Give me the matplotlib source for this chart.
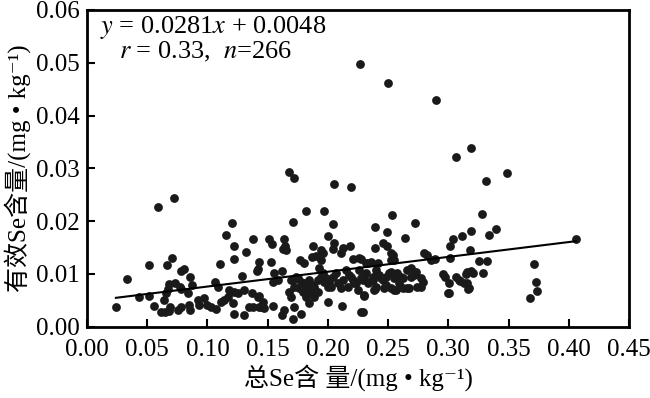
import numpy as np
import matplotlib
matplotlib.use("Agg")
from matplotlib import pyplot as plt

plt.rcParams["font.family"] = ["Liberation Serif", "Noto Sans CJK SC", "DejaVu Serif"]
plt.rcParams["mathtext.fontset"] = "stix"

# total Se (x) and available Se (y), mg/kg
x_low = [0.0592, 0.0720, 0.1203, 0.1156, 0.1380, 0.1217, 0.1317, 0.1217, 0.0705, 0.0517,
         0.0666, 0.1106, 0.1430, 0.0332, 0.0780, 0.0807, 0.0855, 0.1284, 0.1411, 0.0243,
         0.0432, 0.0517, 0.0559, 0.0637, 0.0656, 0.0672, 0.0680, 0.0730, 0.0772, 0.0780,
         0.0841, 0.0869, 0.0844, 0.0855, 0.0614, 0.0647, 0.0683, 0.0691, 0.0753, 0.0780,
         0.0924, 0.0932, 0.0973, 0.0996, 0.1029, 0.1068, 0.1065, 0.1085, 0.1112, 0.1139,
         0.1168, 0.1181, 0.1222, 0.1251, 0.1209, 0.1222, 0.1305, 0.1342, 0.1305, 0.1369,
         0.1425, 0.1430]
y_low = [0.0227, 0.0244, 0.0196, 0.0173, 0.0167, 0.0153, 0.0142, 0.0128, 0.0131, 0.0116,
         0.0116, 0.0119, 0.0122, 0.0091, 0.0106, 0.0109, 0.0094, 0.0097, 0.0106, 0.0037,
         0.0057, 0.0059, 0.0040, 0.0051, 0.0064, 0.0071, 0.0080, 0.0082, 0.0075, 0.0071,
         0.0063, 0.0079, 0.0041, 0.0032, 0.0027, 0.0028, 0.0030, 0.0038, 0.0032, 0.0038,
         0.0051, 0.0041, 0.0054, 0.0041, 0.0038, 0.0034, 0.0085, 0.0076, 0.0047, 0.0051,
         0.0057, 0.0070, 0.0066, 0.0063, 0.0044, 0.0025, 0.0022, 0.0038, 0.0070, 0.0064,
         0.0059, 0.0038]

x_high = [0.2265, 0.2497, 0.2900, 0.3187, 0.3065, 0.3488, 0.3314, 0.1679, 0.1715, 0.2052,
          0.2191, 0.1817, 0.1964, 0.1707, 0.2041, 0.2529, 0.2725, 0.2390, 0.2490, 0.2639,
          0.3276, 0.3187, 0.3392, 0.3339, 0.3115, 0.3040, 0.4064]
y_high = [0.0498, 0.0461, 0.0429, 0.0338, 0.0322, 0.0291, 0.0276, 0.0294, 0.0281, 0.0270,
          0.0265, 0.0219, 0.0219, 0.0199, 0.0194, 0.0211, 0.0197, 0.0188, 0.0180, 0.0168,
          0.0214, 0.0182, 0.0185, 0.0173, 0.0171, 0.0167, 0.0167]

x_mid = [0.1513, 0.1533, 0.1637, 0.1643, 0.1627, 0.2003, 0.2052, 0.2041, 0.1878, 0.1942,
         0.1956, 0.2122, 0.2108, 0.2185, 0.2390, 0.2454, 0.2495, 0.2523, 0.1770, 0.1803,
         0.1865, 0.1900, 0.1942, 0.2205, 0.2260, 0.1527, 0.1422, 0.1554, 0.1616, 0.1541,
         0.1583, 0.1651, 0.2315, 0.2329, 0.2357, 0.2412, 0.2537, 0.2523, 0.2550, 0.2799,
         0.2827, 0.2855, 0.2890, 0.3015, 0.3253, 0.3325, 0.3012, 0.3176, 0.3712, 0.2274]
y_mid = [0.0166, 0.0156, 0.0166, 0.0152, 0.0147, 0.0171, 0.0159, 0.0148, 0.0153, 0.0145,
         0.0139, 0.0149, 0.0139, 0.0153, 0.0150, 0.0159, 0.0152, 0.0139, 0.0126, 0.0120,
         0.0133, 0.0134, 0.0126, 0.0128, 0.0130, 0.0122, 0.0109, 0.0101, 0.0106, 0.0085,
         0.0089, 0.0145, 0.0120, 0.0120, 0.0123, 0.0120, 0.0136, 0.0126, 0.0126, 0.0140,
         0.0136, 0.0126, 0.0128, 0.0131, 0.0125, 0.0125, 0.0153, 0.0145, 0.0119, 0.0128]

x_dense = [0.1707, 0.1749, 0.1776, 0.1803, 0.1845, 0.1873, 0.1720, 0.1817, 0.1886, 0.1928,
           0.1956, 0.1983, 0.2011, 0.2039, 0.2066, 0.2081, 0.2025, 0.2122, 0.2149, 0.2177,
           0.2205, 0.2232, 0.2260, 0.2274, 0.2315, 0.2343, 0.2371, 0.2398, 0.2426, 0.2454,
           0.2481, 0.2523, 0.2550, 0.2578, 0.2620, 0.2661, 0.2689, 0.2730, 0.2772, 0.1693,
           0.1734, 0.1762, 0.1859, 0.1679, 0.1914, 0.1942, 0.1969, 0.1998, 0.2108, 0.2163,
           0.2191, 0.2218, 0.2247, 0.2288, 0.2301, 0.2329, 0.2371, 0.2398, 0.2440, 0.2481,
           0.2523, 0.2564, 0.2592, 0.2606, 0.2550, 0.2509, 0.2620, 0.2384, 0.2689, 0.2716,
           0.2786, 0.2675, 0.2772]
y_dense = [0.0089, 0.0092, 0.0085, 0.0082, 0.0089, 0.0079, 0.0076, 0.0073, 0.0076, 0.0111,
           0.0101, 0.0092, 0.0085, 0.0095, 0.0101, 0.0082, 0.0076, 0.0089, 0.0107, 0.0098,
           0.0088, 0.0082, 0.0107, 0.0092, 0.0101, 0.0085, 0.0095, 0.0107, 0.0098, 0.0088,
           0.0095, 0.0104, 0.0092, 0.0101, 0.0092, 0.0107, 0.0095, 0.0104, 0.0092, 0.0088,
           0.0095, 0.0073, 0.0066, 0.0066, 0.0088, 0.0095, 0.0085, 0.0076, 0.0073, 0.0076,
           0.0095, 0.0082, 0.0070, 0.0088, 0.0095, 0.0082, 0.0088, 0.0076, 0.0092, 0.0079,
           0.0073, 0.0070, 0.0082, 0.0095, 0.0098, 0.0101, 0.0073, 0.0070, 0.0111, 0.0098,
           0.0085, 0.0073, 0.0075]

x_bottom = [0.2301, 0.2003, 0.2116, 0.2274, 0.2390, 0.2467, 0.2550, 0.2661, 0.2744, 0.1914,
            0.1886, 0.1845, 0.1817, 0.1790, 0.1693, 0.1720, 0.1637, 0.1623, 0.1707, 0.1776,
            0.1541, 0.1444, 0.1417, 0.1375, 0.1471, 0.1458, 0.2301, 0.2288]
y_bottom = [0.0059, 0.0047, 0.0040, 0.0027, 0.0071, 0.0073, 0.0070, 0.0073, 0.0075, 0.0066,
            0.0057, 0.0044, 0.0057, 0.0066, 0.0057, 0.0038, 0.0032, 0.0022, 0.0014, 0.0025,
            0.0040, 0.0038, 0.0057, 0.0038, 0.0035, 0.0047, 0.0060, 0.0028]

x_right = [0.2952, 0.2971, 0.3007, 0.3002, 0.3062, 0.3098, 0.3131, 0.3159, 0.3168, 0.3145,
           0.3159, 0.3187, 0.3201, 0.3289, 0.3164, 0.3726, 0.3740, 0.3676, 0.2999, 0.3090]
y_right = [0.0100, 0.0094, 0.0082, 0.0063, 0.0095, 0.0087, 0.0082, 0.0083, 0.0073, 0.0100,
           0.0104, 0.0106, 0.0101, 0.0102, 0.0071, 0.0085, 0.0068, 0.0054, 0.0063, 0.0088]

x_all = x_low + x_high + x_mid + x_dense + x_bottom + x_right
y_all = y_low + y_high + y_mid + y_dense + y_bottom + y_right

slope = 0.0281
intercept = 0.0048
fit_x = np.array([0.024, 0.406])

fig = plt.figure(figsize=(6.5, 3.98), dpi=100)
ax = fig.add_axes([0.1338, 0.1791, 0.8339, 0.7958])

ax.scatter(x_all, y_all, s=40, color="#1a1a1a", linewidths=0, zorder=3)
ax.plot(fit_x, slope * fit_x + intercept, color="black", lw=1.5, zorder=4)

ax.set_xlim(0, 0.45)
ax.set_ylim(0, 0.06)
ax.set_xticks(np.arange(0, 0.46, 0.05))
ax.set_yticks(np.arange(0, 0.061, 0.01))
ax.xaxis.set_major_formatter(matplotlib.ticker.FormatStrFormatter("%.2f"))
ax.yaxis.set_major_formatter(matplotlib.ticker.FormatStrFormatter("%.2f"))
ax.tick_params(direction="in", length=6, width=1.5, labelsize=18, pad=5)
ax.tick_params(axis="x", pad=9)
for sp in ax.spines.values():
    sp.set_linewidth(2)

ax.text(0.024, 0.946, r"$y$ = 0.0281$x$ + 0.0048", transform=ax.transAxes,
        fontsize=19, va="center", ha="left")
ax.text(0.2196, 0.867, r"$r$ = 0.33,  $n$=266", transform=ax.transAxes,
        fontsize=19, va="center", ha="center")

ax.set_xlabel("总Se含 量/(mg • kg\u207b\u00b9)", fontsize=18, labelpad=2)
ax.set_ylabel("有效Se含量/(mg • kg\u207b\u00b9)", fontsize=18, labelpad=4)

plt.savefig("out.png", dpi=100)
